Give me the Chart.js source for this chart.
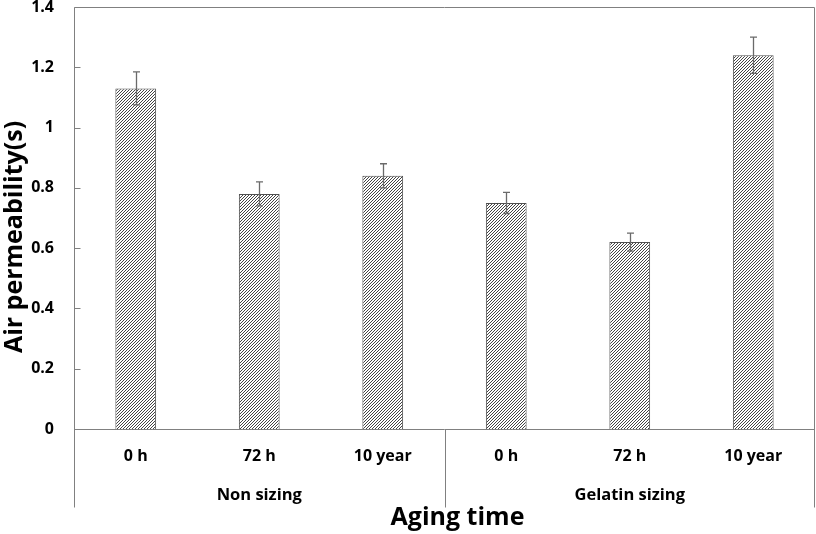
<!DOCTYPE html>
<html>
<head>
<meta charset="utf-8">
<script src="https://cdn.jsdelivr.net/npm/chart.js@4"></script>
<style>
  html, body { margin: 0; padding: 0; background: #fff; }
  #wrap { width: 816px; height: 534px; }
</style>
</head>
<body>
<div id="wrap"><canvas id="c" width="816" height="534"></canvas></div>
<script>
// ---- data ----
const agingLabels = ['0 h', '72 h', '10 year', '0 h', '72 h', '10 year'];
const groupLabels = ['Non sizing', 'Gelatin sizing'];
const groupSizes = [3, 3];
const permeability = [1.13, 0.78, 0.84, 0.75, 0.62, 1.24];
const permeabilityErr = [0.055, 0.04, 0.04, 0.035, 0.03, 0.06];
const yTickLabels = ['0', '0.2', '0.4', '0.6', '0.8', '1', '1.2', '1.4'];
const yTitle = 'Air permeability(s)';
const xTitle = 'Aging time';

const FONT = "'Open Sans', 'DejaVu Sans', sans-serif";
const AXIS = '#808080';

function hatch() {
  const s = 3;
  const p = document.createElement('canvas');
  p.width = s; p.height = s;
  const g = p.getContext('2d');
  g.fillStyle = '#ffffff';
  g.fillRect(0, 0, s, s);
  g.strokeStyle = '#444444';
  g.lineWidth = 1;
  g.beginPath();
  g.moveTo(-1, s + 1); g.lineTo(s + 1, -1);
  g.moveTo(-1, 1); g.lineTo(1, -1);
  g.moveTo(s - 1, s + 1); g.lineTo(s + 1, s - 1);
  g.stroke();
  return g.createPattern(p, 'repeat');
}

const decor = {
  id: 'decor',
  afterDatasetsDraw(chart) {
    const ctx = chart.ctx;
    const x = chart.scales.x, y = chart.scales.y;
    const area = chart.chartArea;
    const meta = chart.getDatasetMeta(0);
    ctx.save();
    // error bars
    ctx.strokeStyle = '#6a6a6a';
    ctx.lineWidth = 1.3;
    meta.data.forEach((bar, i) => {
      const v = permeability[i], e = permeabilityErr[i];
      const cx = Math.round(bar.x) + 0.5;
      const yt = y.getPixelForValue(v + e), yb = y.getPixelForValue(v - e);
      ctx.beginPath();
      ctx.moveTo(cx, yt); ctx.lineTo(cx, yb);
      ctx.moveTo(cx - 3.5, yt); ctx.lineTo(cx + 3.5, yt);
      ctx.moveTo(cx - 3.5, yb); ctx.lineTo(cx + 3.5, yb);
      ctx.stroke();
    });
    // frame
    ctx.strokeStyle = AXIS;
    ctx.lineWidth = 1;
    const L = Math.round(area.left) + 0.5, R = Math.round(area.right) - 0.5;
    const T = Math.round(area.top) + 0.5, B = Math.round(area.bottom) + 0.5;
    const groupBottom = B + 78;
    ctx.beginPath();
    ctx.moveTo(L, T); ctx.lineTo(R, T);
    ctx.moveTo(R, T); ctx.lineTo(R, groupBottom);
    ctx.moveTo(L, T); ctx.lineTo(L, groupBottom);
    ctx.moveTo(L, B); ctx.lineTo(R, B);
    // inner y ticks
    y.ticks.forEach(t => {
      const py = Math.round(y.getPixelForValue(t.value)) + 0.5;
      ctx.moveTo(L, py); ctx.lineTo(L + 6, py);
    });
    // group dividers
    let idx = 0;
    const step = (x.right - x.left) / agingLabels.length;
    groupSizes.forEach((n, gi) => {
      idx += n;
      if (gi < groupSizes.length - 1) {
        const px = Math.round(x.left + idx * step) + 0.5;
        ctx.moveTo(px, B); ctx.lineTo(px, groupBottom);
      }
    });
    ctx.stroke();
    // group labels
    ctx.fillStyle = '#000';
    ctx.font = 'bold 16.5px ' + FONT;
    ctx.textAlign = 'center';
    ctx.textBaseline = 'middle';
    let start = 0;
    groupSizes.forEach((n, gi) => {
      const cx = x.left + (start + n / 2) * step;
      ctx.fillText(groupLabels[gi], cx, B + 66);
      start += n;
    });
    // axis titles
    ctx.font = 'bold 25px ' + FONT;
    ctx.textBaseline = 'alphabetic';
    ctx.fillText(xTitle, (area.left + area.right) / 2 + 13, 525);
    ctx.save();
    ctx.translate(22, (area.top + area.bottom) / 2 + 19);
    ctx.rotate(-Math.PI / 2);
    ctx.font = 'bold 25px ' + FONT;
    ctx.fillText(yTitle, 0, 0);
    ctx.restore();
    ctx.restore();
  }
};

new Chart(document.getElementById('c'), {
  type: 'bar',
  data: {
    labels: agingLabels,
    datasets: [{
      data: permeability,
      backgroundColor: hatch(),
      borderColor: '#505050',
      borderWidth: 1,
      barPercentage: 0.33,
      categoryPercentage: 1.0
    }]
  },
  options: {
    responsive: false,
    animation: false,
    devicePixelRatio: 1,
    layout: { padding: { top: 7, right: 1, bottom: 0, left: 0 } },
    plugins: { legend: { display: false }, tooltip: { enabled: false } },
    scales: {
      x: {
        grid: { display: false },
        border: { display: false },
        ticks: { color: '#000', font: { family: FONT, size: 16, weight: 'bold' }, padding: 10, maxRotation: 0 },
        afterFit(s) { s.height = 105; s.paddingLeft = 0; s.paddingRight = 0; }
      },
      y: {
        min: 0, max: 1.4,
        grid: { display: false },
        border: { display: false },
        ticks: {
          stepSize: 0.2, color: '#000', padding: 12,
          font: { family: FONT, size: 16, weight: 'bold' },
          callback: (v, i) => yTickLabels[i]
        },
        afterFit(s) { s.width = 74; s.paddingTop = 0; s.paddingBottom = 0; }
      }
    }
  },
  plugins: [decor]
});
</script>
</body>
</html>
